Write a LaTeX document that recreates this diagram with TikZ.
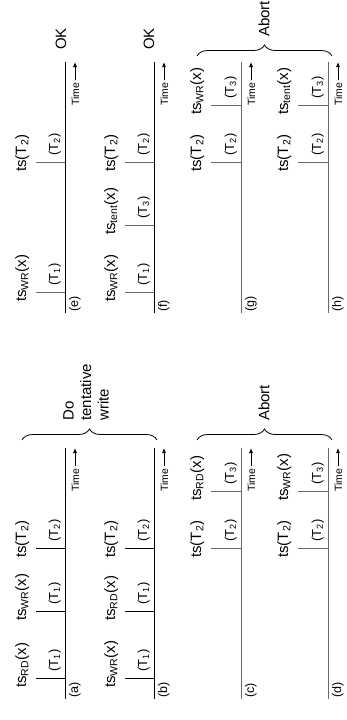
\documentclass[tikz,border=0pt]{standalone}
\usepackage{fontspec}
\setmainfont{Liberation Sans}
\usetikzlibrary{arrows.meta,decorations.pathreplacing}
\definecolor{lgray}{RGB}{105,105,105}
\tikzset{
 tline/.style={line width=0.9pt},
 tickline/.style={line width=0.9pt},
 tslbl/.style={rotate=90,inner sep=0pt,font=\fontsize{15}{18}\selectfont},
 tlbl/.style={rotate=90,inner sep=0pt,font=\fontsize{13}{15}\selectfont},
 lbl/.style={rotate=90,inner sep=0pt,font=\fontsize{12.5}{15}\selectfont},
 timelbl/.style={rotate=90,inner sep=0pt,font=\fontsize{10.5}{12}\selectfont},
 note/.style={rotate=90,inner sep=0pt,align=left,font=\fontsize{15}{17.5}\selectfont},
 timearrow/.style={line width=0.8pt,-{Latex[length=5pt,width=4pt]}},
 bracedeco/.style={decorate,decoration={brace,amplitude=11pt},line width=0.8pt},
}
% timeline: name, X, bottom Y, letter, colour
\newcommand\drawTL[5]{%
 \coordinate (#1-b) at (#2,#3);
 \coordinate (#1-t) at (#2,#3-251);
 \draw[tline,#5] (#1-b) -- (#1-t);
 \node[lbl,anchor=base west] (#1-lab) at (#2+13,#3-1) {(#4)};
 \node[timelbl,anchor=base west] (#1-time) at (#2+14,#3-251+44) {Time};
 \coordinate (#1-a0) at (#2+10,#3-251+18);
 \coordinate (#1-a1) at (#2+10,#3-251);
 \draw[timearrow] (#1-a0) -- (#1-a1);
}
% event: name, X, tick Y, tick length, ts label, T label, colour
\newcommand\drawEV[7]{%
 \coordinate (#1-base) at (#2,#3);
 \coordinate (#1-top) at (#2-#4,#3);
 \draw[tickline,#7] (#1-base) -- (#1-top);
 \node[tslbl,anchor=base west] (#1-ts) at (#2-#4-10,#3+10) {#5};
 \node[tlbl,anchor=base west] (#1-tr) at (#2-7,#3-6) {#6};
}
\begin{document}
\begin{tikzpicture}[x=1pt,y=-1pt]
\useasboundingbox (0,0) rectangle (346,720);
% ---- bottom half
\drawTL{a}{65}{699}{a}{black}
\drawEV{a1}{65}{678}{29}{ts\textsubscript{RD}(x)}{(T\textsubscript{1})}{black}
\drawEV{a2}{65}{611}{29}{ts\textsubscript{WR}(x)}{(T\textsubscript{1})}{black}
\drawEV{a3}{65}{548}{29}{ts(T\textsubscript{2})}{(T\textsubscript{2})}{black}
\drawTL{b}{154}{699}{b}{black}
\drawEV{b1}{154}{678}{29}{ts\textsubscript{WR}(x)}{(T\textsubscript{1})}{black}
\drawEV{b2}{154}{611}{29}{ts\textsubscript{RD}(x)}{(T\textsubscript{1})}{black}
\drawEV{b3}{154}{548}{29}{ts(T\textsubscript{2})}{(T\textsubscript{2})}{black}
\drawTL{c}{241}{699}{c}{lgray}
\drawEV{c3}{241}{548}{30}{ts(T\textsubscript{2})}{(T\textsubscript{2})}{lgray}
\drawEV{c4}{241}{491}{30}{ts\textsubscript{RD}(x)}{(T\textsubscript{3})}{lgray}
\drawTL{d}{328}{699}{d}{lgray}
\drawEV{d3}{328}{548}{30}{ts(T\textsubscript{2})}{(T\textsubscript{2})}{lgray}
\drawEV{d4}{328}{491}{30}{ts\textsubscript{WR}(x)}{(T\textsubscript{3})}{lgray}
% ---- top half
\drawTL{e}{65}{313}{e}{black}
\drawEV{e1}{65}{292}{29}{ts\textsubscript{WR}(x)}{(T\textsubscript{1})}{lgray}
\drawEV{e3}{65}{162}{29}{ts(T\textsubscript{2})}{(T\textsubscript{2})}{lgray}
\drawTL{f}{154}{313}{f}{black}
\drawEV{f1}{154}{292}{29}{ts\textsubscript{WR}(x)}{(T\textsubscript{1})}{lgray}
\drawEV{f2}{154}{225}{29}{ts\textsubscript{tent}(x)}{(T\textsubscript{3})}{lgray}
\drawEV{f3}{154}{162}{29}{ts(T\textsubscript{2})}{(T\textsubscript{2})}{lgray}
\drawTL{g}{241}{313}{g}{lgray}
\drawEV{g3}{241}{162}{30}{ts(T\textsubscript{2})}{(T\textsubscript{2})}{lgray}
\drawEV{g4}{241}{105}{30}{ts\textsubscript{WR}(x)}{(T\textsubscript{3})}{lgray}
\drawTL{h}{328}{313}{h}{lgray}
\drawEV{h3}{328}{162}{30}{ts(T\textsubscript{2})}{(T\textsubscript{2})}{lgray}
\drawEV{h4}{328}{105}{30}{ts\textsubscript{tent}(x)}{(T\textsubscript{3})}{lgray}
% ---- braces and outcomes
\coordinate (br1s) at (22,440);
\coordinate (br1e) at (157,440);
\draw[bracedeco] (br1s) -- (br1e);
\node[note,anchor=west] (n1) at (86,421) {Do\\tentative\\write};
\coordinate (br2s) at (197,440);
\coordinate (br2e) at (332,440);
\draw[bracedeco] (br2s) -- (br2e);
\node[note,anchor=west] (n2) at (264,421) {Abort};
\coordinate (br3s) at (197,56);
\coordinate (br3e) at (332,56);
\draw[bracedeco] (br3s) -- (br3e);
\node[note,anchor=west] (n3) at (264,37) {Abort};
\node[note,anchor=west] (ok1) at (61,50) {OK};
\node[note,anchor=west] (ok2) at (149,50) {OK};
\end{tikzpicture}
\end{document}
